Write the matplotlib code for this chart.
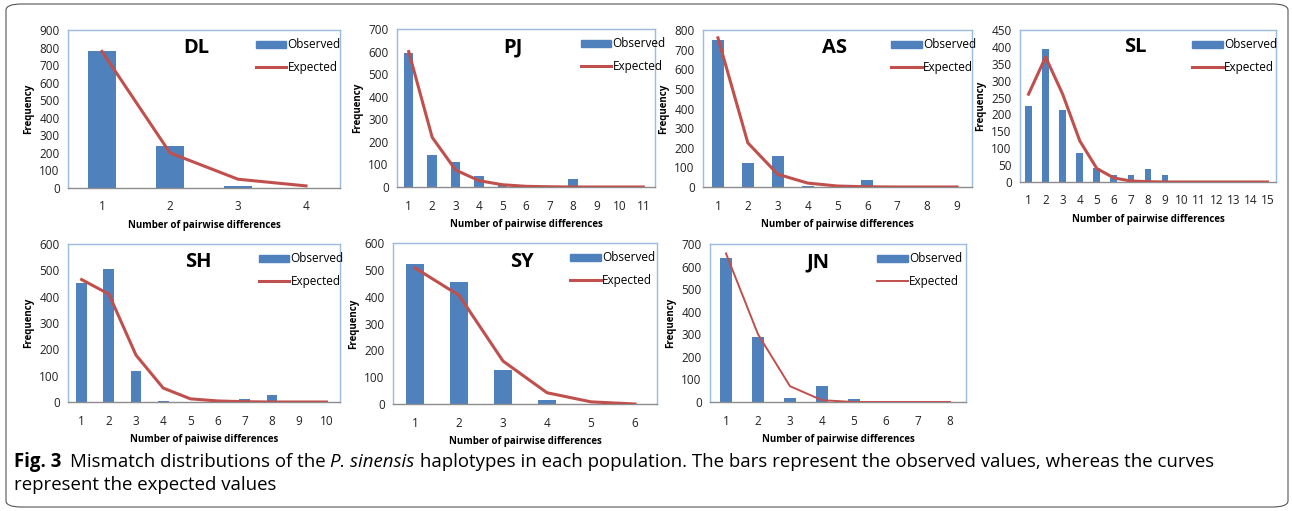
import matplotlib
matplotlib.use('Agg')
import matplotlib.pyplot as plt
from matplotlib.patches import FancyBboxPatch
from matplotlib.lines import Line2D
from matplotlib.patches import Patch

# Data
names = ['DL', 'PJ', 'AS', 'SL', 'SH', 'SY', 'JN']

obs_DL = [780, 238, 12, 0]
exp_DL = [778, 200, 50, 12]

obs_PJ = [595, 140, 112, 48, 8, 0, 0, 35, 0, 0, 0]
exp_PJ = [600, 220, 75, 28, 10, 3, 1, 0, 0, 0, 0]

obs_AS = [748, 122, 158, 5, 0, 37, 0, 0, 0]
exp_AS = [760, 225, 65, 20, 5, 1, 0, 0, 0]

obs_SL = [225, 395, 213, 85, 40, 20, 20, 38, 20, 0, 0, 0, 0, 0, 0]
exp_SL = [260, 370, 260, 122, 40, 12, 3, 1, 0, 0, 0, 0, 0, 0, 0]

obs_SH = [450, 505, 118, 3, 0, 0, 10, 28, 0, 0]
exp_SH = [465, 410, 178, 53, 12, 4, 1, 0, 0, 0]

obs_SY = [520, 455, 128, 15, 0, 0]
exp_SY = [507, 405, 160, 42, 8, 0]

obs_JN = [640, 288, 18, 72, 15, 0, 0, 0]
exp_JN = [658, 300, 70, 8, 0, 0, 0, 0]

observed = [obs_DL, obs_PJ, obs_AS, obs_SL, obs_SH, obs_SY, obs_JN]
expected = [exp_DL, exp_PJ, exp_AS, exp_SL, exp_SH, exp_SY, exp_JN]
ymax = [900, 700, 800, 450, 600, 600, 700]
ystep = [100, 100, 100, 50, 100, 100, 100]
xlabels = ['Number of pairwise differences'] * 4 + ['Number of paiwise differences',
           'Number of pairwise differences', 'Number of pairwise differences']

# layout in pixels: left, top, right, bottom
W, H = 1292, 511
boxes = [(68, 30, 340, 188), (397, 29, 655, 187), (703, 30, 972, 187), (1020, 30, 1276, 182),
         (68, 244, 340, 402), (393, 243, 657, 404), (710, 244, 966, 402)]
title_x = [0.47, 0.45, 0.49, 0.45, 0.48, 0.49, 0.42]
leg_x = [0.66, 0.68, 0.67, 0.64, 0.67, 0.64, 0.62]

bar_col = '#4F81BD'
line_col = '#C0504D'
frame_col = '#9DBBDD'

plt.rcParams['font.family'] = ['Open Sans', 'DejaVu Sans']

fig = plt.figure(figsize=(W / 100, H / 100), dpi=100)

border = FancyBboxPatch((6 / W, 4 / H), 1282 / W, 503 / H, boxstyle='round,pad=0,rounding_size=0.012',
                        transform=fig.transFigure, fill=False, edgecolor='#555555', linewidth=0.8)
fig.patches.append(border)

for i in range(7):
    l, t, r, b = boxes[i]
    ax = fig.add_axes([l / W, (H - b) / H, (r - l) / W, (b - t) / H])
    n = len(observed[i])
    xs = list(range(1, n + 1))
    ax.bar(xs, observed[i], width=0.4, color=bar_col, zorder=2)
    lw = 1.4 if names[i] == 'JN' else 2.2
    ax.plot(xs, expected[i], color=line_col, linewidth=lw, zorder=3)
    ax.set_xlim(0.5, n + 0.5)
    ax.set_ylim(0, ymax[i])
    ax.set_xticks(xs)
    ax.set_yticks(range(0, ymax[i] + 1, ystep[i]))
    ax.tick_params(length=0, labelsize=8.5, pad=6, colors='#222222')
    ax.tick_params(axis='x', pad=9)
    for s in ['top', 'right', 'left']:
        ax.spines[s].set_color(frame_col)
        ax.spines[s].set_linewidth(1.0)
    ax.spines['bottom'].set_color('#8C8C8C')
    ax.spines['bottom'].set_linewidth(1.0)
    ax.set_ylabel('Frequency', fontsize=7, fontweight='bold', labelpad=4)
    ax.set_xlabel(xlabels[i], fontsize=7, fontweight='bold', labelpad=5)
    ax.text(title_x[i], 0.885, names[i], transform=ax.transAxes, ha='center', va='center',
            fontsize=14.5, fontweight='bold')
    handles = [Patch(color=bar_col), Line2D([], [], color=line_col, linewidth=lw)]
    ax.legend(handles, ['Observed', 'Expected'], loc='upper left', bbox_to_anchor=(leg_x[i], 1.0),
              frameon=False, fontsize=8.5, handlelength=2.6, handleheight=0.55, handletextpad=0.1,
              labelspacing=0.85, borderaxespad=0.3)

# caption, drawn piece by piece so the italic species name sits inline
renderer = fig.canvas.get_renderer()
pieces = [('Fig. 3', 'bold', 'normal', 14),
          ('Mismatch distributions of the ', 'normal', 'normal', 70),
          ('P. sinensis', 'normal', 'italic', None),
          (' haplotypes in each population. The bars represent the observed values, whereas the curves',
           'normal', 'normal', None)]
x = 0
for txt, wt, st, x0 in pieces:
    if x0 is not None:
        x = x0
    t = fig.text(x / W, 1 - 462 / H, txt, fontsize=13.4, fontweight=wt, style=st, va='center')
    x = x + t.get_window_extent(renderer).width
fig.text(14 / W, 1 - 485 / H, 'represent the expected values', fontsize=13.4, va='center')

fig.savefig('out.png', dpi=100)
